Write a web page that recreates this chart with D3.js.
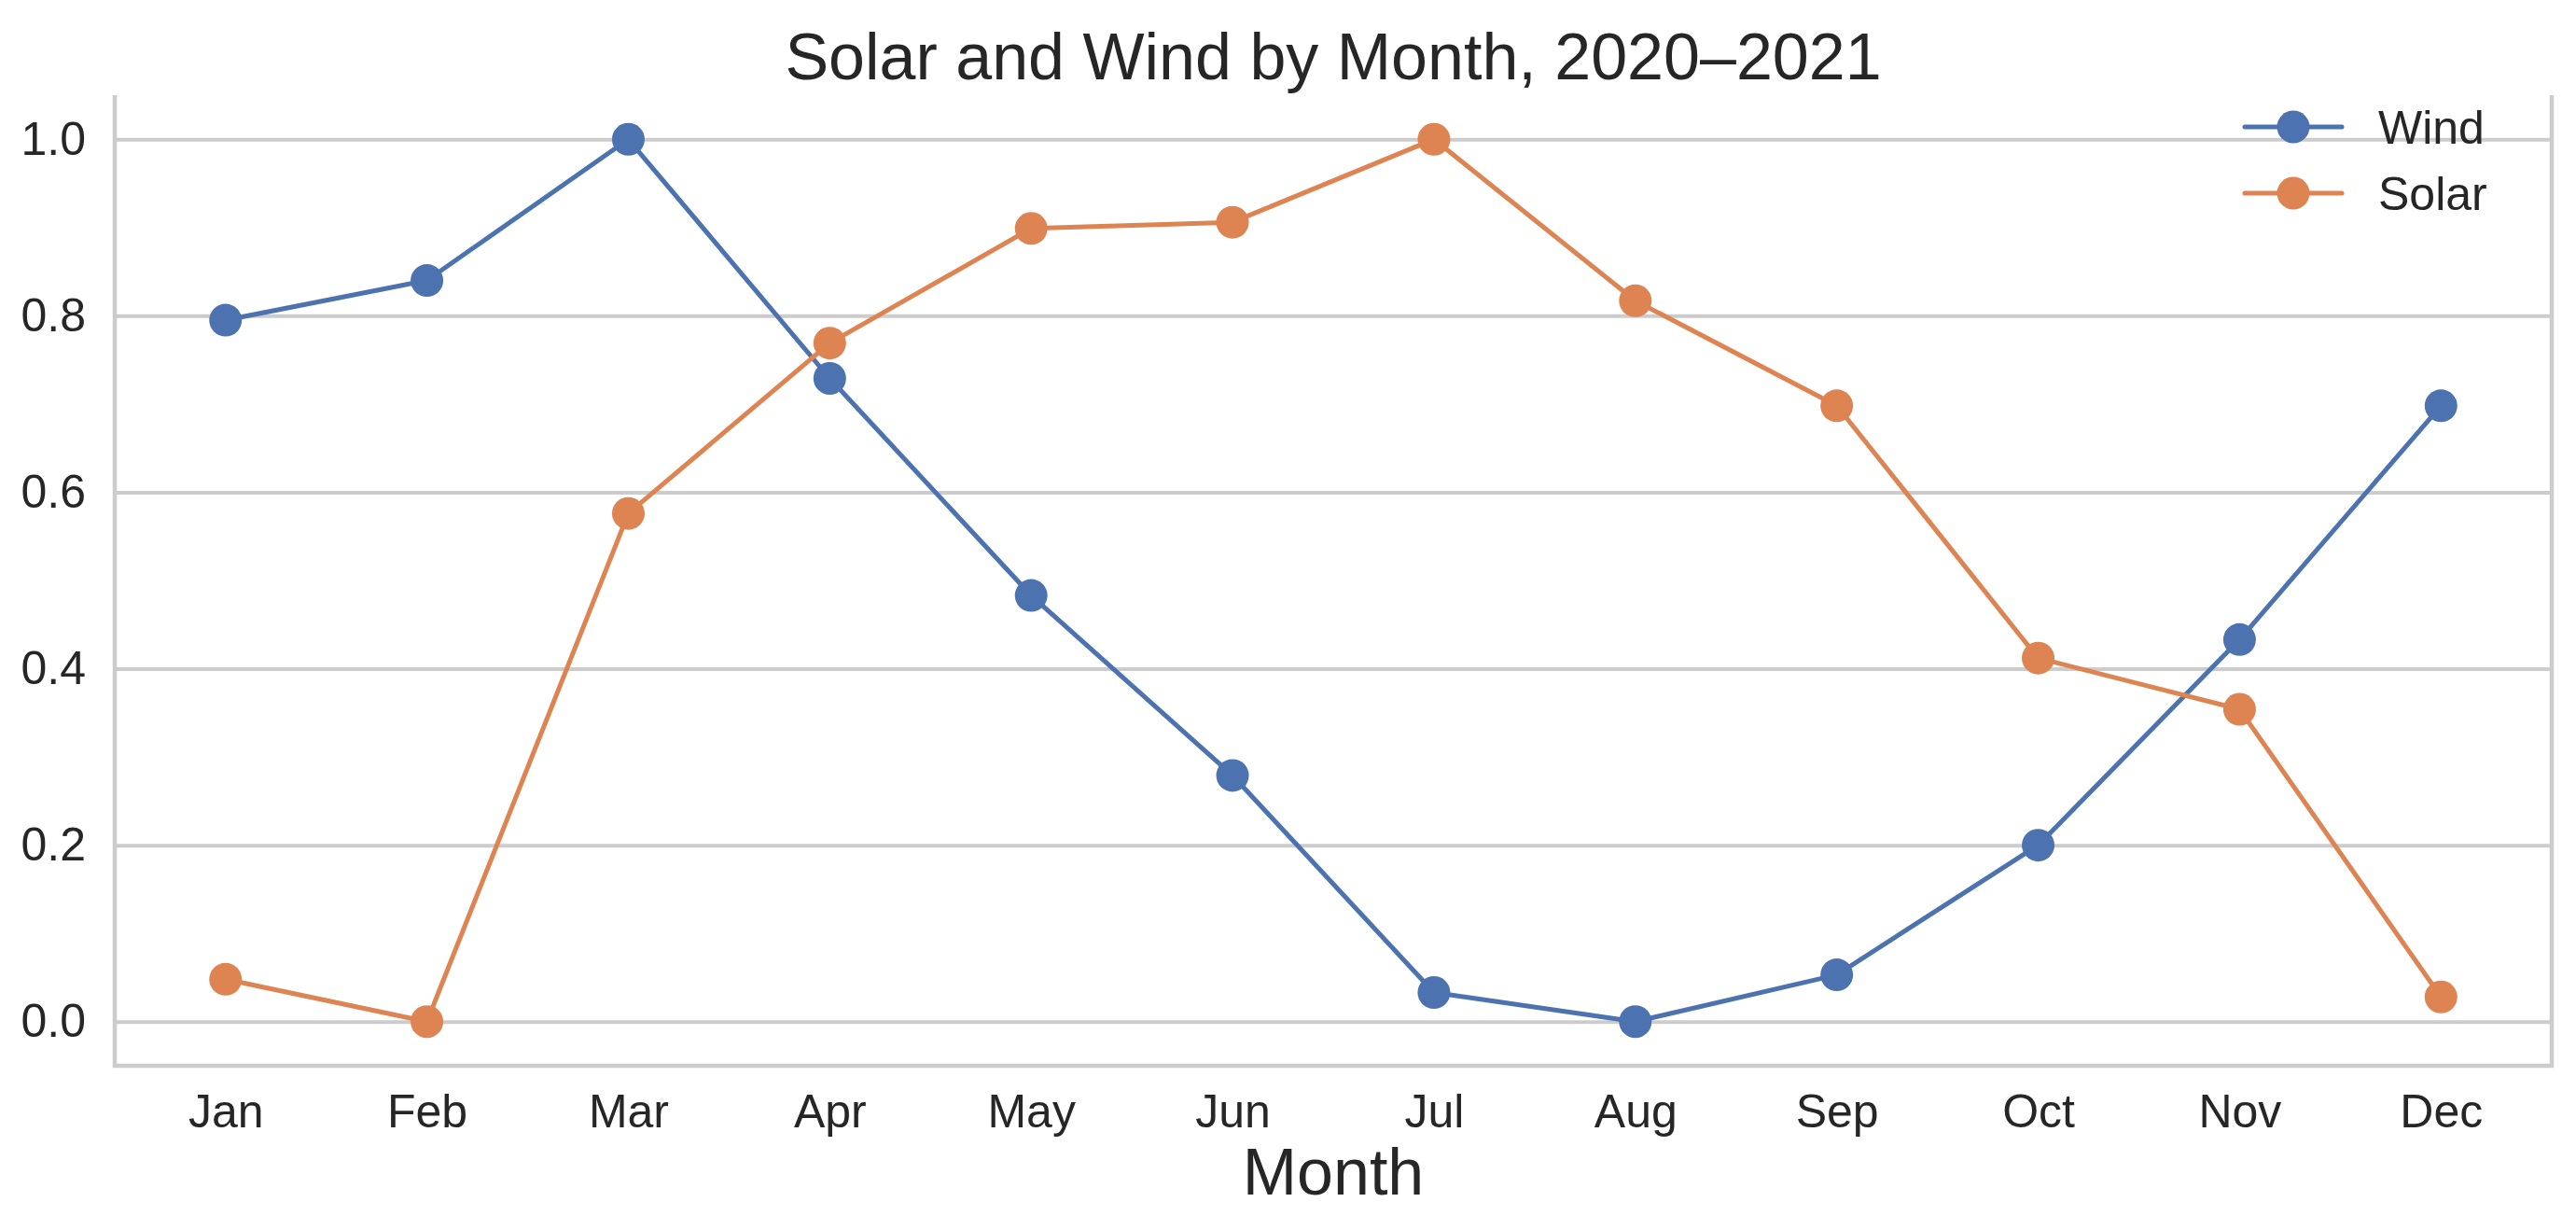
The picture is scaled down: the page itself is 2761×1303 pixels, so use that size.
<!DOCTYPE html>
<html>
<head>
<meta charset="utf-8">
<script src="https://cdn.jsdelivr.net/npm/d3@7"></script>
<style>
  body { margin: 0; background: #fff; }
  svg { display: block; font-family: "Liberation Sans", Arial, sans-serif; }
</style>
</head>
<body>
<svg id="chart" width="2761" height="1303"></svg>
<script>
const months = ["Jan", "Feb", "Mar", "Apr", "May", "Jun", "Jul", "Aug", "Sep", "Oct", "Nov", "Dec"];
const wind = [0.795, 0.840, 1.000, 0.729, 0.483, 0.279, 0.033, 0.000, 0.053, 0.200, 0.433, 0.698];
const solar = [0.048, 0.000, 0.576, 0.769, 0.899, 0.906, 1.000, 0.817, 0.698, 0.412, 0.354, 0.028];
const yTicks = [0.0, 0.2, 0.4, 0.6, 0.8, 1.0];
const seriesNames = ["Wind", "Solar"];
const seriesColors = ["#4c72b0", "#dd8452"];

const plotLeft = 123, plotRight = 2735, plotTop = 102, plotBottom = 1142;
const svg = d3.select("#chart");

// month index -> x, with the half-step padding matplotlib adds
const x = d3.scaleLinear().domain([-0.55, 11.55]).range([plotLeft, plotRight]);
const y = d3.scaleLinear().domain([-0.05, 1.05]).range([plotBottom, plotTop]);

// horizontal grid
svg.append("g")
  .attr("transform", `translate(${plotLeft},0)`)
  .call(d3.axisLeft(y).tickValues(yTicks).tickSize(-(plotRight - plotLeft)).tickFormat(""))
  .call(g => g.select(".domain").remove())
  .selectAll("line").attr("stroke", "#cccccc").attr("stroke-width", 4);

// y tick labels
svg.append("g")
  .attr("transform", `translate(${plotLeft},0)`)
  .call(d3.axisLeft(y).tickValues(yTicks).tickSize(0).tickPadding(31).tickFormat(d3.format(".1f")))
  .call(g => g.select(".domain").remove())
  .selectAll("text")
  .attr("font-size", 50).attr("fill", "#262626")
  .attr("font-family", "'Liberation Sans', Arial, sans-serif");

// x tick labels
svg.append("g")
  .attr("transform", `translate(0,${plotBottom})`)
  .call(d3.axisBottom(x).tickValues(d3.range(months.length)).tickSize(0).tickPadding(30).tickFormat(i => months[i]))
  .call(g => g.select(".domain").remove())
  .selectAll("text")
  .attr("font-size", 50).attr("fill", "#262626")
  .attr("font-family", "'Liberation Sans', Arial, sans-serif");

// left, bottom and right spines (top one is off)
svg.append("path")
  .attr("d", `M${plotLeft},${plotTop}V${plotBottom}H${plotRight}V${plotTop}`)
  .attr("fill", "none").attr("stroke", "#cccccc").attr("stroke-width", 4.5);

const line = d3.line().x((d, i) => x(i)).y(d => y(d));

[wind, solar].forEach((values, k) => {
  const g = svg.append("g");
  g.append("path")
    .datum(values)
    .attr("d", line)
    .attr("fill", "none")
    .attr("stroke", seriesColors[k])
    .attr("stroke-width", 5)
    .attr("stroke-linejoin", "round")
    .attr("stroke-linecap", "round");
  g.selectAll("circle")
    .data(values)
    .enter()
    .append("circle")
    .attr("cx", (d, i) => x(i))
    .attr("cy", d => y(d))
    .attr("r", 17.5)
    .attr("fill", seriesColors[k]);
});

// legend
const legend = svg.append("g");
seriesNames.forEach((name, k) => {
  const ly = 136 + k * 71;
  legend.append("line")
    .attr("x1", 2406).attr("x2", 2510).attr("y1", ly).attr("y2", ly)
    .attr("stroke", seriesColors[k]).attr("stroke-width", 5).attr("stroke-linecap", "round");
  legend.append("circle")
    .attr("cx", 2458).attr("cy", ly).attr("r", 17.5).attr("fill", seriesColors[k]);
  legend.append("text")
    .attr("x", 2549).attr("y", ly + 18)
    .attr("font-size", 50).attr("fill", "#262626")
    .text(name);
});

// title and axis label
svg.append("text")
  .attr("x", (plotLeft + plotRight) / 2).attr("y", 85)
  .attr("text-anchor", "middle")
  .attr("font-size", 70).attr("fill", "#262626")
  .text("Solar and Wind by Month, 2020–2021");

svg.append("text")
  .attr("x", (plotLeft + plotRight) / 2).attr("y", 1280)
  .attr("text-anchor", "middle")
  .attr("font-size", 70).attr("fill", "#262626")
  .text("Month");
</script>
</body>
</html>
